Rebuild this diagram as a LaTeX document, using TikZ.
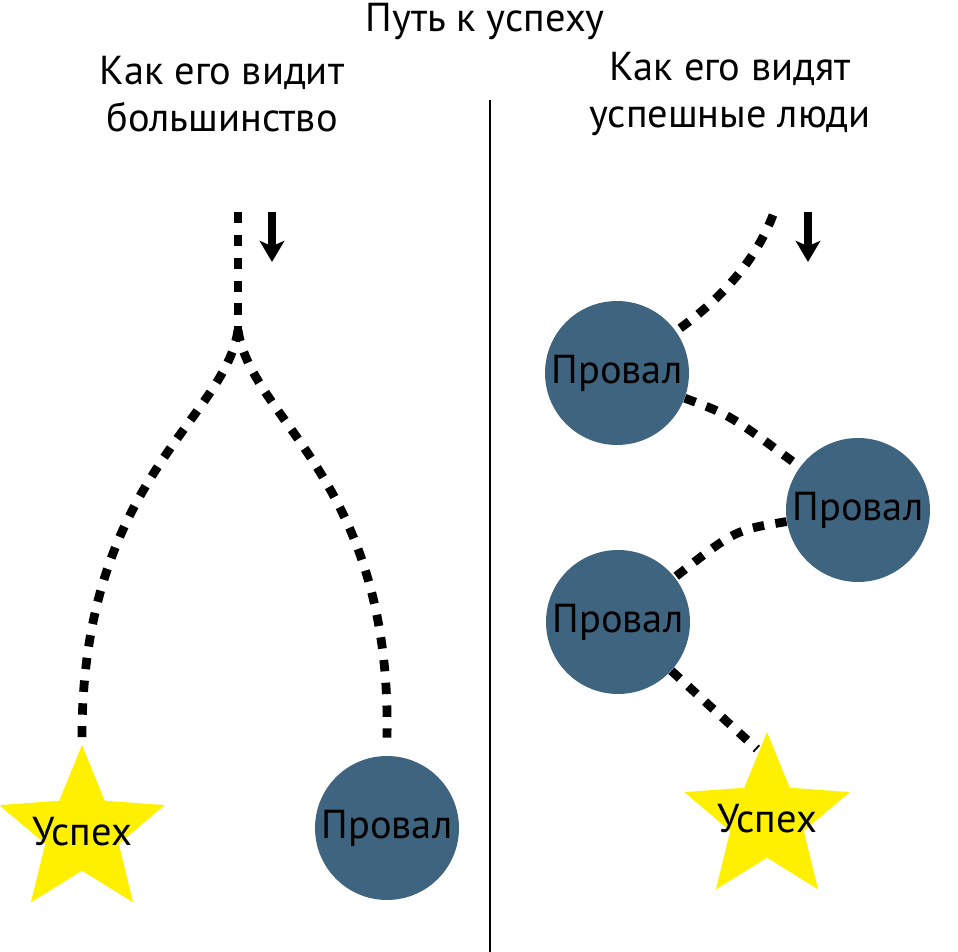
\documentclass[tikz,border=0pt]{standalone}
\usepackage{fontspec}
\setmainfont{PT Sans}
\usetikzlibrary{arrows.meta}
\usetikzlibrary{shapes.geometric}
\tikzset{fail/.style = {circle, fill=mfail, inner sep=0, minimum size=2.88cm}}
\tikzset{win/.style = {star, star points=5, star point ratio=2.25, fill=mstar, inner sep=0, minimum size=3.48cm}}
\tikzset{txt/.style = {font=\fontsize{23}{27}\selectfont, inner sep=0}}
\tikzset{path/.style = {line width=5pt, dash pattern=on 6.5pt off 6.5pt}}
\tikzset{down/.style = {line width=4.6pt, -{Stealth[length=12pt, width=14pt, inset=3pt]}}}
\definecolor{mfail}{RGB}{63,100,128}
\definecolor{mstar}{RGB}{255,240,0}

\begin{document}
\begin{tikzpicture}[x=0.02cm, y=-0.02cm]
    \useasboundingbox (0,0) rectangle (958,952);
    \node [txt] (title) at (485,22) {Путь к успеху};
    \node [txt, align=center] (most) at (222,94) {Как его видит\\большинство};
    \node [txt, align=center] (succ) at (730,94) {Как его видят\\успешные люди};
    \draw [line width=1.7pt] (490,100) -- (490,952);
    \begin{scope}
      \coordinate (ltop) at (238,212);
      \coordinate (lfork) at (238,330);
      \coordinate (la) at (272,212);
      \coordinate (lb) at (272,262);
      \node [win] (lwin) at (82,832) {};
      \node [txt] at (lwin) {Успех};
      \node [fail] (lfail) at (387,828) {};
      \node [txt] at (lfail) {Провал};
      \draw [path] (ltop) -- (lfork);
      \draw [path] (lfork) .. controls (225,420) and (82,480) .. ([yshift=0.14cm]lwin.north);
      \draw [path] (lfork) .. controls (251,420) and (392,480) .. ([yshift=0.36cm]lfail.north);
      \draw [down] (la) -- (lb);
    \end{scope}
    \begin{scope}
      \coordinate (rtop) at (773,215);
      \coordinate (ra) at (808,212);
      \coordinate (rb) at (808,262);
      \node [fail] (f1) at (617,373) {};
      \node [txt] at (f1) {Провал};
      \node [fail] (f2) at (858,510) {};
      \node [txt] at (f2) {Провал};
      \node [fail] (f3) at (618,622) {};
      \node [txt] at (f3) {Провал};
      \node [win] (rwin) at (767,819) {};
      \node [txt] at (rwin) {Успех};
      \coordinate (rend) at ([xshift=-0.2cm, yshift=-0.36cm]rwin.north);
      \draw [path] (rtop) .. controls (755,262) and (720,300) .. (f1);
      \draw [path] (f1) .. controls (730,415) .. (f2);
      \draw [path] (f2) .. controls (735,530) .. (f3);
      \draw [path] (f3) -- (rend);
      \draw [down] (ra) -- (rb);
    \end{scope}
  \end{tikzpicture}
\end{document}
